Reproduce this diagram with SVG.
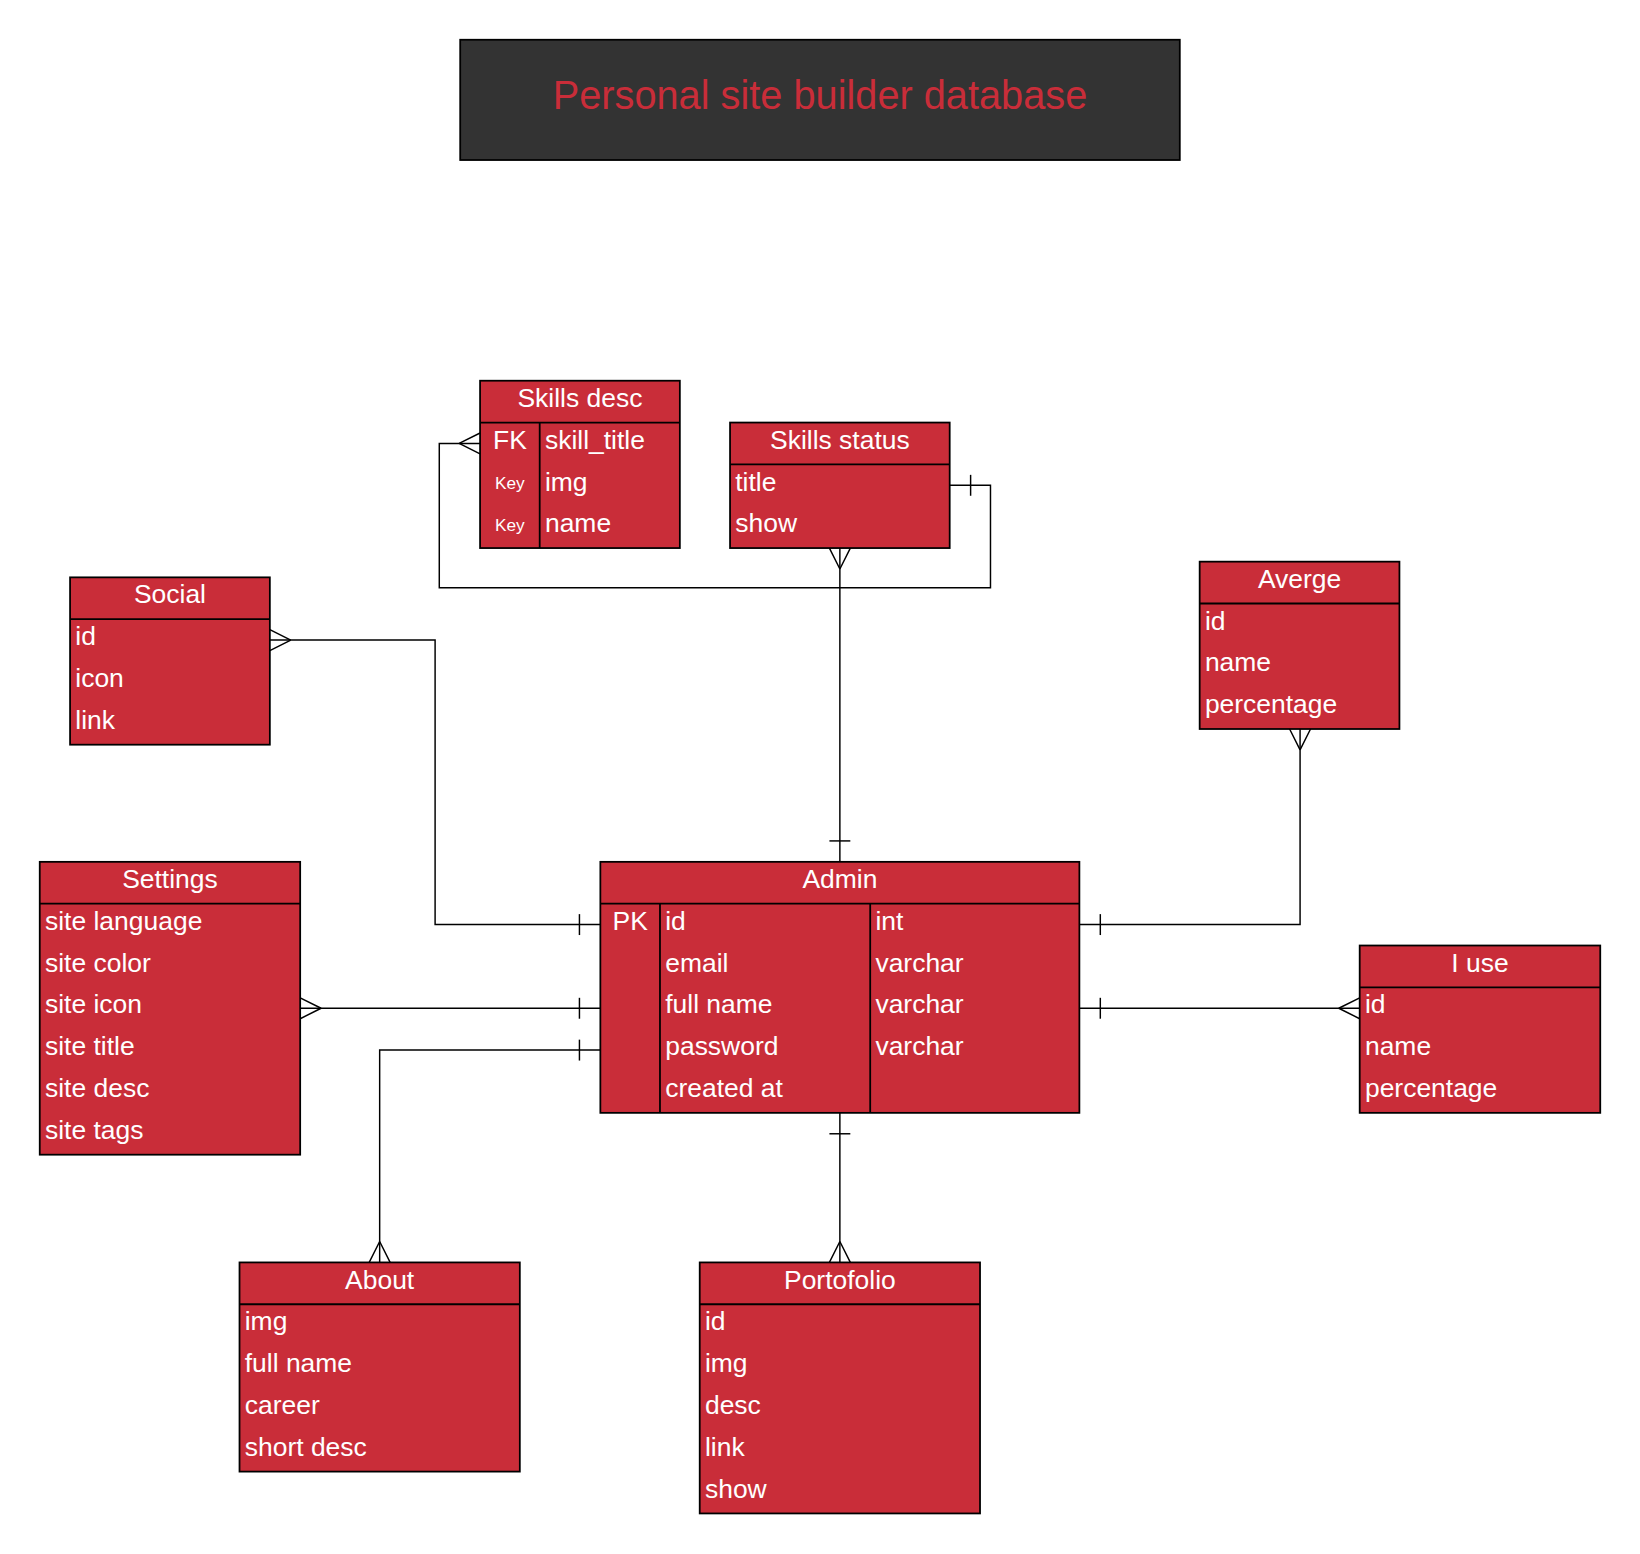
<svg xmlns="http://www.w3.org/2000/svg" width="1640" height="1554" viewBox="0 0 1640 1554">
<style>
.box{fill:#C92D39;stroke:#000;stroke-width:1.7}
.sep{stroke:#000;stroke-width:1.7;fill:none}
.t{font-family:"Liberation Sans",Arial,Helvetica,sans-serif;font-size:25.3px;fill:#fff}
.h{text-anchor:middle}
.k{font-size:16.5px;text-anchor:middle}
.title{font-family:"Liberation Sans",Arial,Helvetica,sans-serif;font-size:38px;fill:#C92D39;text-anchor:middle}
.c{fill:none;stroke:#000;stroke-width:1.4;marker-start:url(#one);marker-end:url(#many)}
</style>
<defs>
<marker id="many" markerUnits="userSpaceOnUse" markerWidth="1" markerHeight="1" refX="0" refY="0" orient="auto-start-reverse" overflow="visible">
<path d="M-20,0 L0,-10 M-20,0 L0,10" fill="none" stroke="#000" stroke-width="1.4"/>
</marker>
<marker id="one" markerUnits="userSpaceOnUse" markerWidth="1" markerHeight="1" refX="0" refY="0" orient="auto-start-reverse" overflow="visible">
<path d="M-20,-10 L-20,10" fill="none" stroke="#000" stroke-width="1.4"/>
</marker>
</defs>
<rect width="1640" height="1554" fill="#fff"/>
<g transform="scale(1.045918)">
<g id="title">
<rect x="440" y="38" width="688" height="115" fill="#333333" stroke="#000" stroke-width="1.7"/>
<text class="title" x="784" y="104">Personal site builder database</text>
</g>
<g id="connectors">
<path class="c" d="M908,464 H947 V562 H420 V424 H459"/>
<path class="c" d="M803,824 V524"/>
<path class="c" d="M574,884 H416 V612 H258"/>
<path class="c" d="M574,964 H287"/>
<path class="c" d="M574,1004 H363 V1207"/>
<path class="c" d="M803,1064 V1207"/>
<path class="c" d="M1032,884 H1243 V697"/>
<path class="c" d="M1032,964 H1300"/>
</g>
<g id="skills-desc">
<rect class="box" x="459" y="364" width="191" height="160"/>
<path class="sep" d="M459,404 H650 M516,404 V524"/>
<text class="t h" x="554.5" y="389">Skills desc</text>
<text class="t h" x="487.5" y="429">FK</text>
<text class="t" x="521" y="429">skill_title</text>
<text class="t k" x="487.5" y="468">Key</text>
<text class="t" x="521" y="469">img</text>
<text class="t k" x="487.5" y="508">Key</text>
<text class="t" x="521" y="509">name</text>
</g>
<g id="skills-status">
<rect class="box" x="698" y="404" width="210" height="120"/>
<path class="sep" d="M698,444 H908"/>
<text class="t h" x="803" y="429">Skills status</text>
<text class="t" x="703" y="469">title</text>
<text class="t" x="703" y="509">show</text>
</g>
<g id="social">
<rect class="box" x="67" y="552" width="191" height="160"/>
<path class="sep" d="M67,592 H258"/>
<text class="t h" x="162.5" y="577">Social</text>
<text class="t" x="72" y="617">id</text>
<text class="t" x="72" y="657">icon</text>
<text class="t" x="72" y="697">link</text>
</g>
<g id="settings">
<rect class="box" x="38" y="824" width="249" height="280"/>
<path class="sep" d="M38,864 H287"/>
<text class="t h" x="162.5" y="849">Settings</text>
<text class="t" x="43" y="889">site language</text>
<text class="t" x="43" y="929">site color</text>
<text class="t" x="43" y="969">site icon</text>
<text class="t" x="43" y="1009">site title</text>
<text class="t" x="43" y="1049">site desc</text>
<text class="t" x="43" y="1089">site tags</text>
</g>
<g id="admin">
<rect class="box" x="574" y="824" width="458" height="240"/>
<path class="sep" d="M574,864 H1032 M631,864 V1064 M832,864 V1064"/>
<text class="t h" x="803" y="849">Admin</text>
<text class="t h" x="602.5" y="889">PK</text>
<text class="t" x="636" y="889">id</text>
<text class="t" x="636" y="929">email</text>
<text class="t" x="636" y="969">full name</text>
<text class="t" x="636" y="1009">password</text>
<text class="t" x="636" y="1049">created at</text>
<text class="t" x="837" y="889">int</text>
<text class="t" x="837" y="929">varchar</text>
<text class="t" x="837" y="969">varchar</text>
<text class="t" x="837" y="1009">varchar</text>
</g>
<g id="averge">
<rect class="box" x="1147" y="537" width="191" height="160"/>
<path class="sep" d="M1147,577 H1338"/>
<text class="t h" x="1242.5" y="562">Averge</text>
<text class="t" x="1152" y="602">id</text>
<text class="t" x="1152" y="642">name</text>
<text class="t" x="1152" y="682">percentage</text>
</g>
<g id="i-use">
<rect class="box" x="1300" y="904" width="230" height="160"/>
<path class="sep" d="M1300,944 H1530"/>
<text class="t h" x="1415" y="929">I use</text>
<text class="t" x="1305" y="969">id</text>
<text class="t" x="1305" y="1009">name</text>
<text class="t" x="1305" y="1049">percentage</text>
</g>
<g id="about">
<rect class="box" x="229" y="1207" width="268" height="200"/>
<path class="sep" d="M229,1247 H497"/>
<text class="t h" x="363" y="1232">About</text>
<text class="t" x="234" y="1272">img</text>
<text class="t" x="234" y="1312">full name</text>
<text class="t" x="234" y="1352">career</text>
<text class="t" x="234" y="1392">short desc</text>
</g>
<g id="portofolio">
<rect class="box" x="669" y="1207" width="268" height="240"/>
<path class="sep" d="M669,1247 H937"/>
<text class="t h" x="803" y="1232">Portofolio</text>
<text class="t" x="674" y="1272">id</text>
<text class="t" x="674" y="1312">img</text>
<text class="t" x="674" y="1352">desc</text>
<text class="t" x="674" y="1392">link</text>
<text class="t" x="674" y="1432">show</text>
</g>
</g>
</svg>
